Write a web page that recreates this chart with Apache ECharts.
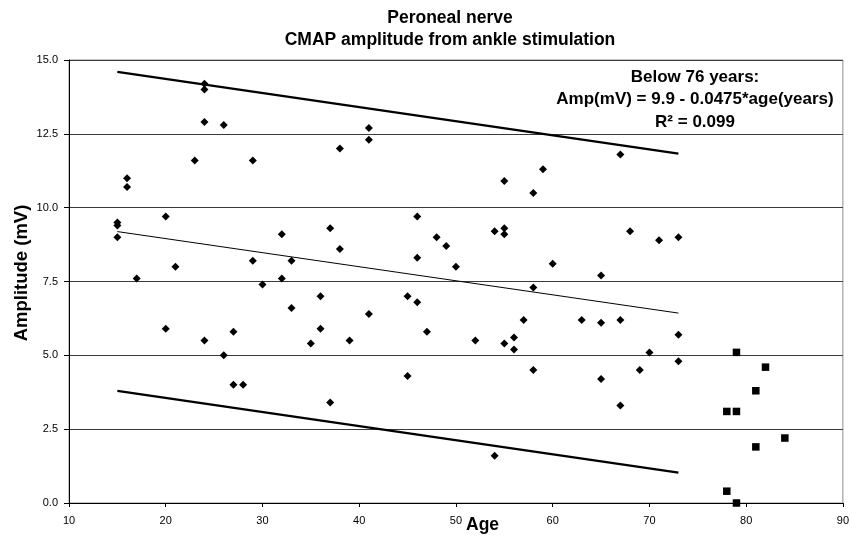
<!DOCTYPE html>
<html>
<head>
<meta charset="utf-8">
<script src="https://cdn.jsdelivr.net/npm/echarts@6/dist/echarts.min.js"></script>
<style>
html,body{margin:0;padding:0;background:#fff;}
#chart{width:852px;height:537px;}
</style>
</head>
<body>
<div id="chart"></div>
<script>
// Subjects below 76 years (diamonds)
const agesBelow76 = [15,15,15,16,16,17,20,20,21,23,24,24,24,24,26,26,27,27,28,29,29,30,32,32,33,33,35,36,36,37,37,38,38,39,41,41,41,45,45,46,46,46,47,48,49,50,52,54,54,55,55,55,55,56,56,57,58,58,58,59,60,63,65,65,65,67,67,67,68,69,70,71,73,73,73];
const ampsBelow76 = [9.5,9.4,9.0,11.0,10.7,7.6,9.7,5.9,8.0,11.6,14.2,14.0,12.9,5.5,12.8,5.0,5.8,4.0,4.0,11.6,8.2,7.4,9.1,7.6,8.2,6.6,5.4,7.0,5.9,9.3,3.4,12.0,8.6,5.5,12.7,12.3,6.4,7.0,4.3,9.7,8.3,6.8,5.8,9.0,8.7,8.0,5.5,9.2,1.6,10.9,9.3,9.1,5.4,5.6,5.2,6.2,10.5,7.3,4.5,11.3,8.1,6.2,7.7,6.1,4.2,11.8,6.2,3.3,9.2,4.5,5.1,8.9,9.0,5.7,4.8];
// Subjects 76 years and older (squares)
const agesAbove76 = [78,78,79,79,79,81,81,82,84];
const ampsAbove76 = [3.1,0.4,5.1,3.1,0.0,3.8,1.9,4.6,2.2];
// Regression line and limits (end points)
const lineAges = [15,73];
const regressionAmps = [9.19,6.43];
const upperLimitAmps = [14.6,11.83];
const lowerLimitAmps = [3.8,1.03];
// Axis ticks
const xTicks = [10,20,30,40,50,60,70,80,90];
const yTicks = [0,2.5,5,7.5,10,12.5,15];
// Texts
const titleLines = ['Peroneal nerve','CMAP amplitude from ankle stimulation'];
const noteLines = ['Below 76 years:','Amp(mV) = 9.9 - 0.0475*age(years)','R\u00B2 = 0.099'];
const xName = 'Age';
const yName = 'Amplitude (mV)';

const FONT = '"Liberation Sans", Arial, Helvetica, sans-serif';
const zip = (a,b) => a.map((v,i)=>[v,b[i]]);

const chart = echarts.init(document.getElementById('chart'), null, {renderer:'canvas'});
const lineSeries = (amps, w) => ({
  type:'line', data: zip(lineAges, amps), symbol:'none', silent:true,
  lineStyle:{color:'#000', width:w, opacity:1}, z:3
});
const txt = (x, y, s, size, extra) => Object.assign({type:'text', x:x, y:y,
  style:{text:s, fontSize:size, fontWeight:'bold', fontFamily:FONT, fill:'#000', align:'center', verticalAlign:'middle'}}, extra||{});

chart.setOption({
  animation:false,
  backgroundColor:'#fff',
  grid:{left:69, right:4, top:60, bottom:34, show:true, borderColor:'#8c8c8c', borderWidth:1, backgroundColor:'transparent'},
  xAxis:{
    type:'value', min:xTicks[0], max:xTicks[xTicks.length-1], interval:10,
    axisLine:{show:true, onZero:false, lineStyle:{color:'#000', width:1}},
    axisTick:{show:true, length:4, lineStyle:{color:'#000'}},
    axisLabel:{color:'#000', fontSize:11, fontFamily:FONT, margin:12},
    splitLine:{show:false}
  },
  yAxis:{
    type:'value', min:yTicks[0], max:yTicks[yTicks.length-1], interval:2.5,
    axisLine:{show:true, onZero:false, lineStyle:{color:'#000', width:1}},
    axisTick:{show:true, length:5, lineStyle:{color:'#000'}},
    axisLabel:{color:'#000', fontSize:11, fontFamily:FONT, margin:11, formatter:v=>v.toFixed(1)},
    splitLine:{show:true, lineStyle:{color:'#3a3a3a', width:1}}
  },
  series:[
    lineSeries(upperLimitAmps, 2.3),
    lineSeries(regressionAmps, 1),
    lineSeries(lowerLimitAmps, 2.3),
    {type:'scatter', data: zip(agesBelow76, ampsBelow76), symbol:'diamond', symbolSize:8, clip:false,
     itemStyle:{color:'#000', opacity:1}, z:4},
    {type:'scatter', data: zip(agesAbove76, ampsAbove76), symbol:'rect', symbolSize:7.5, clip:false,
     itemStyle:{color:'#000', opacity:1}, z:4}
  ],
  graphic:[
    txt(450, 18.3, titleLines[0], 17.5),
    txt(450, 40, titleLines[1], 17.5),
    txt(695, 77.5, noteLines[0], 17),
    txt(695, 99.5, noteLines[1], 17),
    txt(695, 122.5, noteLines[2], 17),
    {type:'text', x:466, y:525.5, style:{text:xName, fontSize:17.5, fontWeight:'bold', fontFamily:FONT, fill:'#000', align:'left', verticalAlign:'middle'}},
    txt(22, 273, yName, 18.5, {rotation:Math.PI/2})
  ]
});
</script>
</body>
</html>
